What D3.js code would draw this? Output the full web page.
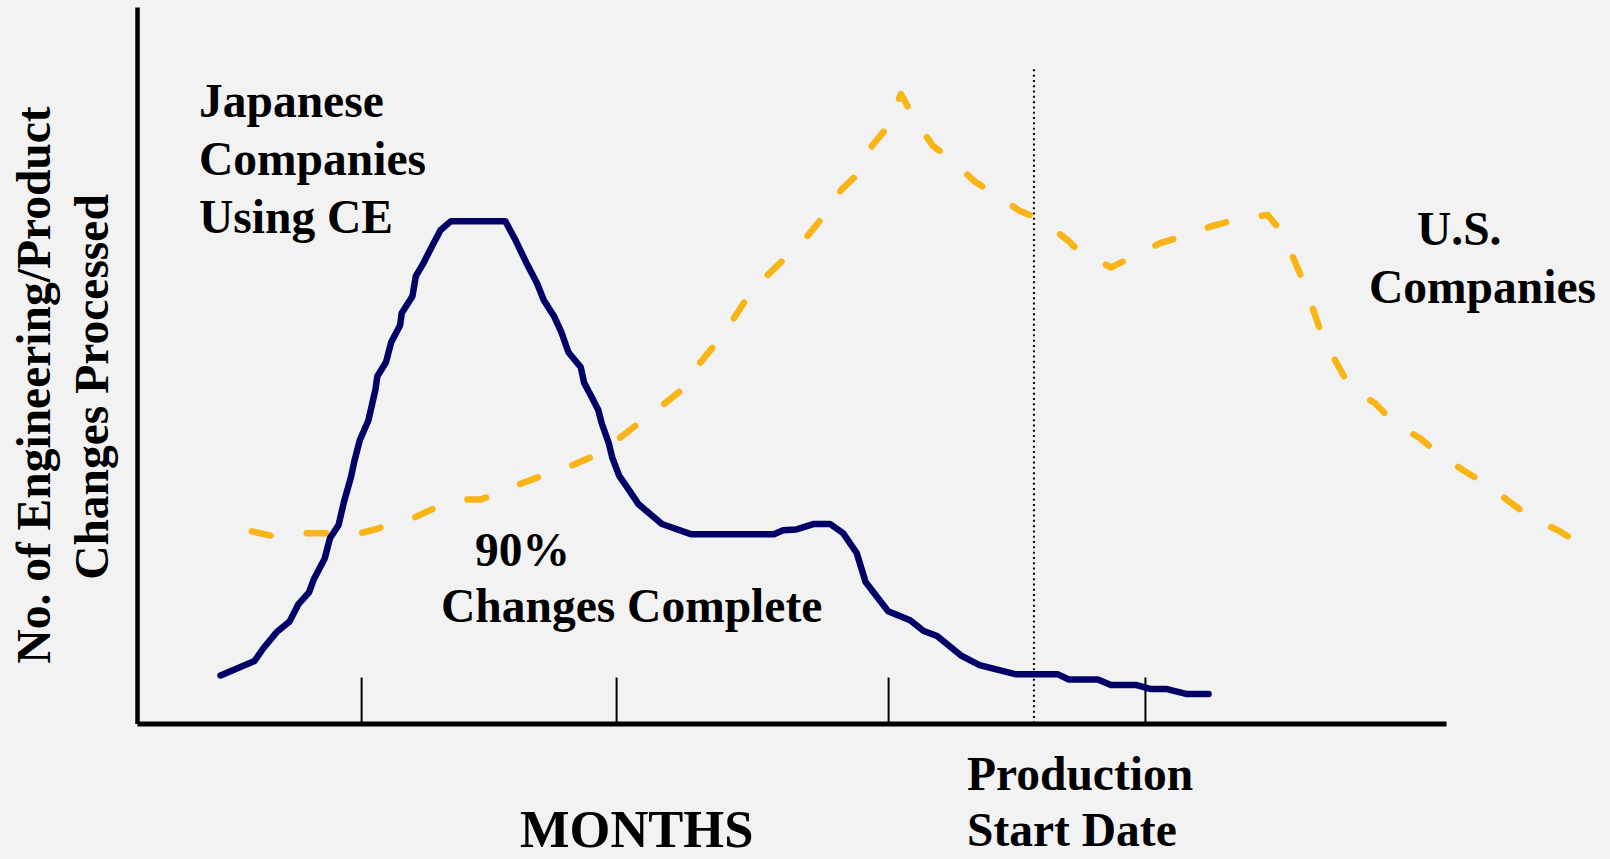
<!DOCTYPE html>
<html>
<head>
<meta charset="utf-8">
<script src="https://cdn.jsdelivr.net/npm/d3@7"></script>
<style>
  html, body { margin: 0; padding: 0; background: #f2f2f2; overflow: hidden; }
  svg { display: block; }
  text { font-family: "Liberation Serif", "Times New Roman", serif; font-weight: bold; fill: #000; }
</style>
</head>
<body>
<script>
// ---- data (months since program start, number of changes processed) ----
const jpMonths  = [3.19,4.49,4.82,5.36,5.83,6.16,6.57,6.76,7.17,7.37,7.70,7.91,8.17,8.31,8.51,8.84,9.11,9.18,9.51,9.71,10.05,10.11,10.52,10.65,10.92,11.25,11.59,11.99,14.07,14.47,14.87,15.28,15.54,15.94,16.21,16.48,16.95,17.08,17.35,17.62,17.75,18.02,18.15,18.42,18.75,19.16,20.05,21.18,24.33,24.68,25.19,25.86,26.47,26.97,27.49,27.83,28.69,29.53,30.05,30.56,31.50,32.18,33.54,35.16,35.59,36.70,37.20,38.15,38.73,39.34,40.11,40.93];
const jpChanges = [6.7,8.73,10.47,12.85,14.25,16.62,18.30,20.17,23.04,25.84,27.72,31.01,34.36,36.73,39.53,42.32,46.65,48.46,50.42,53.21,55.59,57.26,59.64,62.43,64.11,66.48,68.85,70.11,70.11,67.37,64.32,61.45,59.08,56.76,54.61,51.82,49.72,47.54,45.67,43.77,41.90,39.11,37.15,34.57,32.82,30.59,27.85,26.40,26.40,26.96,27.09,27.85,27.85,26.58,23.80,19.75,15.68,14.41,12.91,12.21,9.43,8.16,6.89,6.89,6.15,6.15,5.38,5.38,4.80,4.80,4.11,4.11];

const usMonths  = [4.39,5.23,6.36,7.37,8.51,9.24,9.45,10.52,11.38,12.53,13.13,13.46,14.60,15.47,16.62,17.42,18.42,19.16,20.09,20.84,21.43,22.12,22.80,23.30,24.08,24.75,25.62,26.20,26.89,27.49,28.07,28.69,29.18,29.71,30.39,31.07,32.01,32.77,33.71,34.57,35.59,35.93,36.27,37.20,38.06,39.08,40.02,41.05,42.06,43.18,43.77,44.23,44.61,45.00,45.30,45.87,46.33,47.29,47.98,49.01,49.69,50.65,51.49,52.44,53.21,54.28,55.00];
const usChanges = [26.82,26.12,26.54,26.54,26.54,27.23,27.65,28.63,30.08,31.28,31.28,31.70,33.38,34.57,36.03,37.29,39.80,41.90,44.48,46.65,50.00,53.07,56.56,59.40,62.57,64.94,68.09,70.70,74.44,76.54,80.59,83.38,87.85,84.30,80.66,78.80,75.61,73.88,71.56,70.25,67.32,66.06,65.64,63.63,65.22,67.04,68.09,69.41,70.39,70.99,68.44,64.43,61.17,56.98,53.77,50.00,46.97,44.69,42.08,39.80,37.71,35.34,33.52,30.91,28.81,26.96,25.35];

const tickMonths = [8.56, 18.30, 28.69, 38.50];
const productionStartMonth = 34.26;
const productionLineTop = 91.3;

const monthDomain  = [0, 50];
const changeDomain = [0, 100];

// ---- layout ----
const W = 1610, H = 859;
const plot = { left: 137, right: 1446, top: 7, bottom: 723.5 };

const svg = d3.select("body").append("svg")
  .attr("width", W).attr("height", H);

svg.append("rect").attr("width", W).attr("height", H).attr("fill", "#f2f2f2");

const x = d3.scaleLinear().domain(monthDomain).range([plot.left, plot.right]);
const y = d3.scaleLinear().domain(changeDomain).range([plot.bottom, plot.top]);

// x axis with inward ticks
const xAxis = d3.axisBottom(x).tickValues(tickMonths).tickSize(-46).tickSizeOuter(0).tickFormat("");
const gx = svg.append("g").attr("transform", `translate(0,${plot.bottom})`).call(xAxis);
gx.select(".domain").attr("stroke", "#000").attr("stroke-width", 5);
gx.selectAll(".tick line").attr("stroke", "#000").attr("stroke-width", 2);

// y axis (no ticks)
const yAxis = d3.axisLeft(y).tickValues([]).tickSizeOuter(0);
const gy = svg.append("g").attr("transform", `translate(${plot.left},0)`).call(yAxis);
gy.select(".domain").attr("stroke", "#000").attr("stroke-width", 4.5);

// production start dotted line
svg.append("line")
  .attr("x1", x(productionStartMonth)).attr("x2", x(productionStartMonth))
  .attr("y1", y(productionLineTop)).attr("y2", y(0))
  .attr("stroke", "#000").attr("stroke-width", 2)
  .attr("stroke-dasharray", "2,3.3");

const line = d3.line().x(d => x(d[0])).y(d => y(d[1]));

// US companies (dashed)
svg.append("path")
  .datum(d3.zip(usMonths, usChanges))
  .attr("d", line)
  .attr("fill", "none")
  .attr("stroke", "#f9b515")
  .attr("stroke-width", 6.5)
  .attr("stroke-linecap", "round")
  .attr("stroke-linejoin", "round")
  .attr("stroke-dasharray", "19,36.5");

// Japanese companies (solid)
svg.append("path")
  .datum(d3.zip(jpMonths, jpChanges))
  .attr("d", line)
  .attr("fill", "none")
  .attr("stroke", "#000066")
  .attr("stroke-width", 6.5)
  .attr("stroke-linecap", "round")
  .attr("stroke-linejoin", "round");

// ---- annotations ----
const fs = 47.5;
function label(lines, xPos, baselines, size) {
  lines.forEach((t, i) => {
    svg.append("text")
      .attr("x", xPos[i]).attr("y", baselines[i])
      .attr("font-size", size)
      .text(t);
  });
}
label(["Japanese", "Companies", "Using CE"], [199, 199, 199], [117, 175, 233], fs);
label(["U.S.", "Companies"], [1417, 1369], [245, 303], fs);
label(["90%", "Changes Complete"], [475, 441], [566, 622], fs);
label(["Production", "Start Date"], [967, 967], [790, 846], fs);
label(["MONTHS"], [520], [847], 52.5);

// y-axis title
[["No. of Engineering/Product", 50, 385], ["Changes Processed", 108, 387]].forEach(([t, bx, cy]) => {
  svg.append("text")
    .attr("transform", `translate(${bx},${cy}) rotate(-90)`)
    .attr("text-anchor", "middle")
    .attr("font-size", fs)
    .text(t);
});
</script>
</body>
</html>
